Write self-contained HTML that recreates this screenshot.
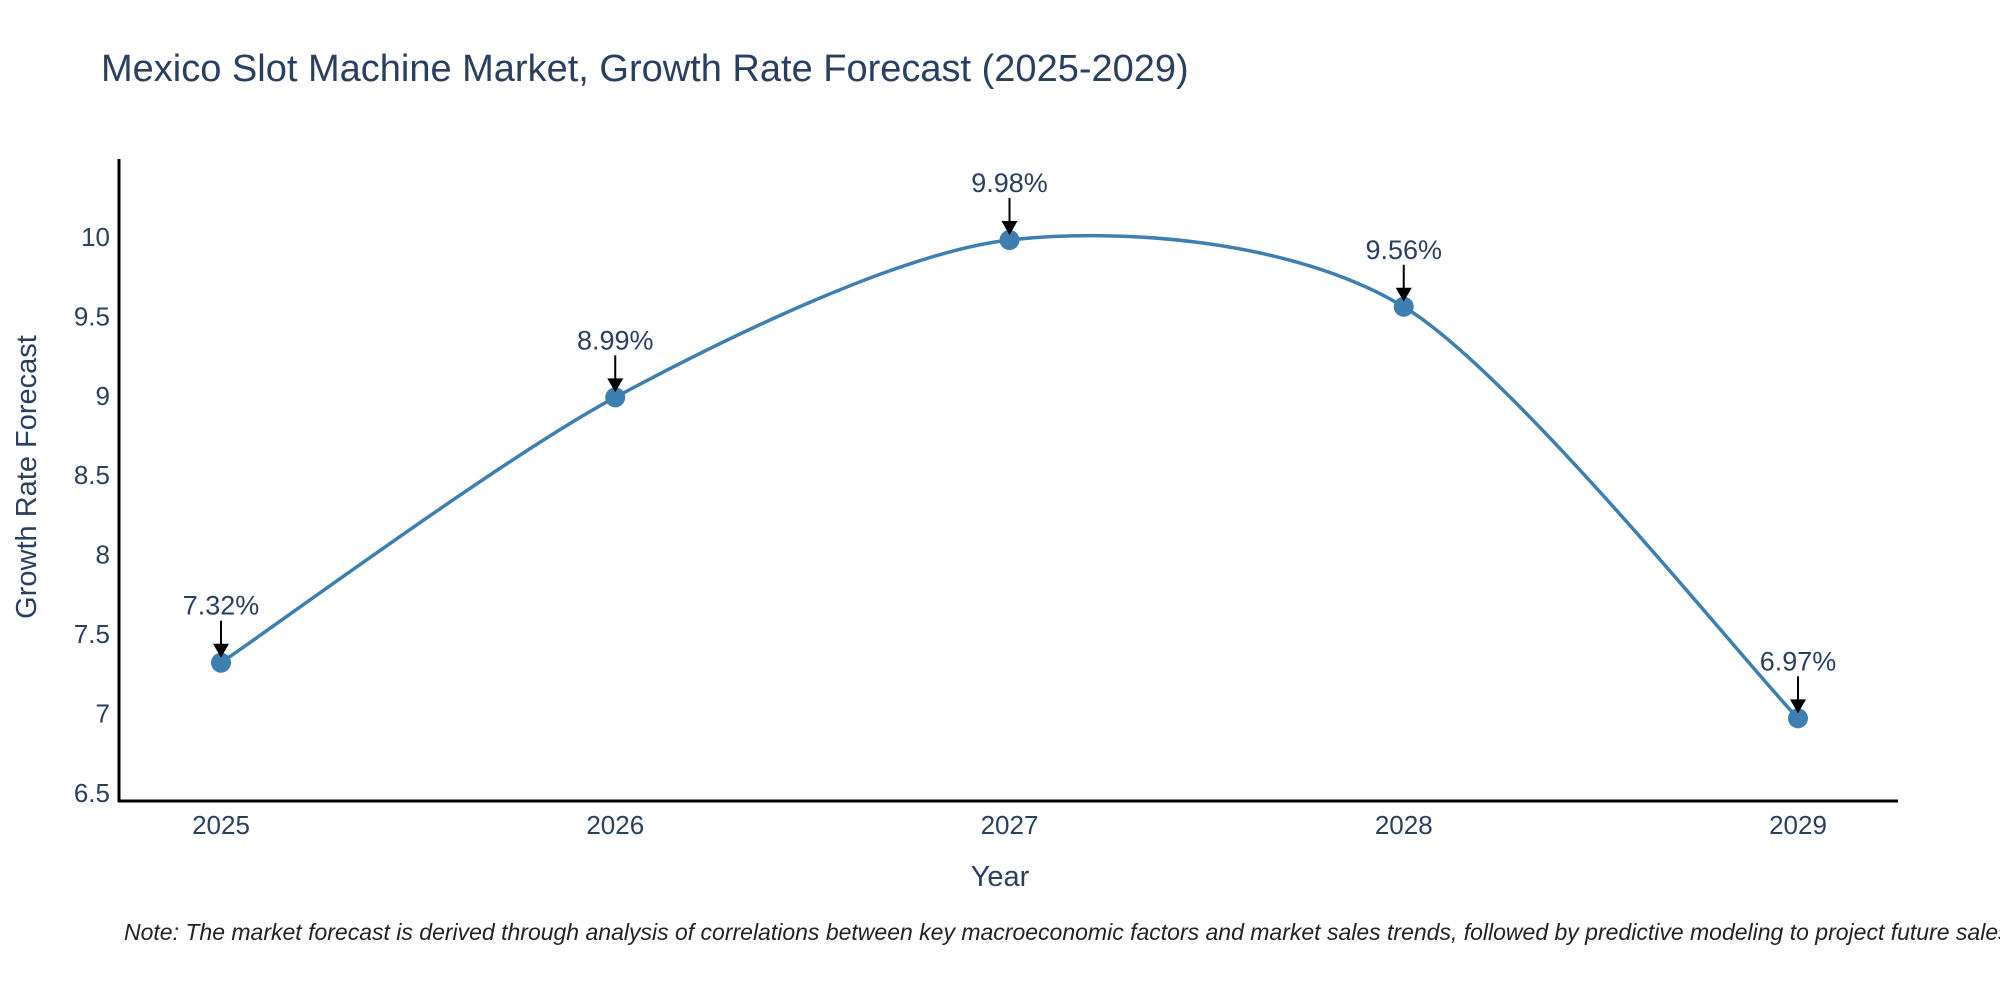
<!DOCTYPE html>
<html><head><meta charset="utf-8"><style>
body{margin:0;background:#fff;}
svg{display:block;font-family:"Liberation Sans",Arial,sans-serif;}
</style></head><body>
<svg id="chart" width="2000" height="1000" viewBox="0 0 2000 1000">
<text x="101" y="81" font-size="38" fill="#2a3f5f">Mexico Slot Machine Market, Growth Rate Forecast (2025-2029)</text>
<g id="axes"></g>
<g id="plot"></g>
<text x="1000" y="886" font-size="29" fill="#2a3f5f" text-anchor="middle">Year</text>
<text transform="translate(36,477) rotate(-90)" font-size="29" fill="#2a3f5f" text-anchor="middle">Growth Rate Forecast</text>
<text x="124" y="940" font-size="23" font-style="italic" fill="#222">Note: The market forecast is derived through analysis of correlations between key macroeconomic factors and market sales trends, followed by predictive modeling to project future sales</text>
</svg>
<script>
const categories = ["2025","2026","2027","2028","2029"];
const values = [7.32, 8.99, 9.98, 9.56, 6.97];
const valueLabels = ["7.32%","8.99%","9.98%","9.56%","6.97%"];
const yTicks = [6.5, 7, 7.5, 8, 8.5, 9, 9.5, 10];
const yTickLabels = ["6.5","7","7.5","8","8.5","9","9.5","10"];

const NS = "http://www.w3.org/2000/svg";
const x0 = 221, xStep = 394.25;
const xScale = i => x0 + i * xStep;
const yScale = v => 793 - (v - 6.5) * 158.9;
function mk(tag, attrs, parent){const e=document.createElementNS(NS,tag);for(const k in attrs)e.setAttribute(k,attrs[k]);parent.appendChild(e);return e;}
const axes = document.getElementById('axes'), plot = document.getElementById('plot');

let yl = mk('line',{x1:119,y1:159,x2:119,y2:802,stroke:'#000','stroke-width':3},axes);


let xl = mk('line',{x1:118,y1:801,x2:1898,y2:801,stroke:'#000','stroke-width':3},axes);



yTicks.forEach((t,i)=>{
  const tx = mk('text',{x:110,y:yScale(t)+9,'font-size':26,fill:'#2a3f5f','text-anchor':'end'},axes);
  tx.textContent = yTickLabels[i];
  
  
});
categories.forEach((c,i)=>{
  const tx = mk('text',{x:xScale(i),y:834,'font-size':26,fill:'#2a3f5f','text-anchor':'middle'},axes);
  tx.textContent = c;
  
  
});

const pts = values.map((v,i)=>[xScale(i), yScale(v)]);
let d = `M${pts[0][0]},${pts[0][1]}`;
const k = 0.14;
for(let i=0;i<pts.length-1;i++){
  const p0=pts[Math.max(0,i-1)], p1=pts[i], p2=pts[i+1], p3=pts[Math.min(pts.length-1,i+2)];
  const c1=[p1[0]+(p2[0]-p0[0])*k, p1[1]+(p2[1]-p0[1])*k];
  const c2=[p2[0]-(p3[0]-p1[0])*k, p2[1]-(p3[1]-p1[1])*k];
  d += ` C${c1[0]},${c1[1]} ${c2[0]},${c2[1]} ${p2[0]},${p2[1]}`;
}
const line = mk('path',{d:d,fill:'none',stroke:'#3d7fb1','stroke-width':3.5},plot);



pts.forEach((p,i)=>{
  const c = mk('circle',{cx:p[0],cy:p[1],r:10,fill:'#3d7fb1'},plot);
  
  
  const a = mk('line',{x1:p[0],y1:p[1]-42,x2:p[0],y2:p[1]-16,stroke:'#000','stroke-width':2},plot);
  
  
  const h = mk('polygon',{points:`${p[0]-8},${p[1]-19} ${p[0]+8},${p[1]-19} ${p[0]},${p[1]-5}`,fill:'#000'},plot);
  
  
  const t = mk('text',{x:p[0],y:p[1]-48,'font-size':27,fill:'#2a3f5f','text-anchor':'middle'},plot);
  t.textContent = valueLabels[i];
  
  
});
</script>
</body></html>
